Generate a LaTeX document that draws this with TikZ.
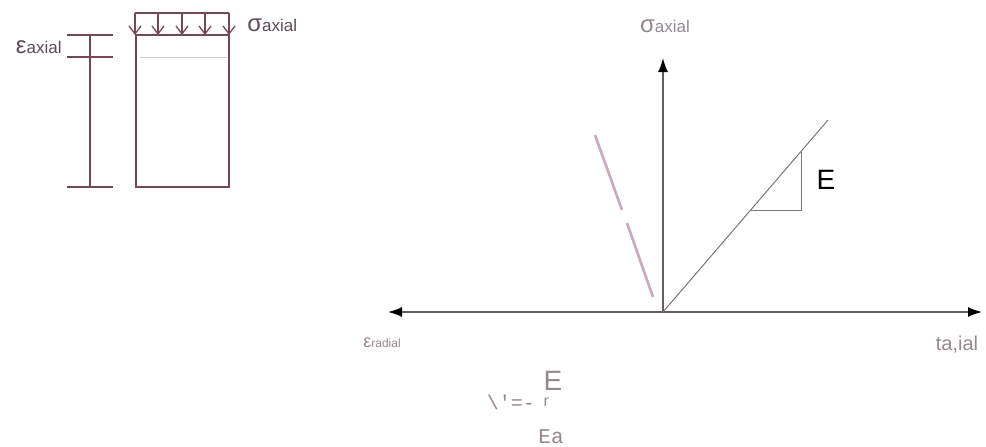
\documentclass[tikz,border=0pt]{standalone}
\usepackage{xcolor}
\usepackage{fontspec}
\setmainfont{Liberation Sans}
\newfontfamily\monofnt{Liberation Mono}
\usepackage{tikz}
\usetikzlibrary{arrows.meta,positioning}
\definecolor{specline}{RGB}{115,70,90}
\definecolor{faintline}{RGB}{210,205,210}
\definecolor{axiscol}{RGB}{100,92,97}
\definecolor{slopecol}{RGB}{125,115,120}
\definecolor{nucol}{RGB}{200,168,188}
\definecolor{lblgray}{RGB}{150,135,145}
\definecolor{lbldark}{RGB}{95,75,90}
\newcommand{\symlbl}[3]{{\fontsize{#3}{#3}\selectfont #1}{\fontsize{8.5}{9}\selectfont #2}}

\begin{document}
\begin{tikzpicture}[
  x=0.5pt, y=-0.5pt,
  spec/.style={draw=specline, line width=0.65pt},
  load/.style={specline, line width=0.65pt, -{Straight Barb[length=4pt,width=6pt]}},
  axis/.style={axiscol, line width=0.8pt},
  tipped/.style={{Latex[length=7pt,width=5pt,color=black]}-{Latex[length=7pt,width=5pt,color=black]}},
  slope/.style={slopecol, line width=0.5pt},
  lbl/.style={inner sep=0pt, text=lbldark},
  glbl/.style={inner sep=0pt, text=lblgray}
]
\useasboundingbox[fill=white] (0,0) rectangle (986,446);

% specimen under axial load
\draw[spec] (135,13) -- (229,13);
\foreach \xa in {135,158,182,205,229}
  \draw[load] (\xa,13) -- (\xa,35);
\draw[spec] (136,35) rectangle (229,187);
\draw[faintline, line width=0.5pt] (140,57) -- (227,57);

% axial strain dimension
\coordinate (dtop) at (90,35);
\coordinate (dbot) at (90,187);
\draw[spec] (dtop) -- (dbot);
\foreach \ya in {35,57,187}
  \draw[spec] (67,\ya) -- (113,\ya);

\node[lbl, anchor=east] (epsax) at (62,47) {\symlbl{ε}{axial}{12}};
\node[lbl, anchor=west] (sigax) at (247,25) {\symlbl{σ}{axial}{12}};

% stress-strain axes
\coordinate (O)  at (663,312);
\coordinate (xl) at (388,312);
\coordinate (xr) at (982,312);
\coordinate (yt) at (663,58);
\draw[axis, tipped] (xl) -- (xr);
\draw[axis, -{Latex[length=7pt,width=5pt,color=black]}] (O) -- (yt);

% elastic line with slope triangle
\coordinate (etop) at (828,120);
\coordinate (ta) at (801,152);
\coordinate (tb) at (751,210);
\draw[slope] (O) -- (etop);
\draw[slope] (ta) -- (801,210) -- (tb);
\node[inner sep=0pt, font=\fontsize{14}{14}\selectfont] (modE) at (826,180) {E};

% radial line
\coordinate (ra) at (595,135);
\coordinate (rb) at (622,210);
\coordinate (rc) at (627,223);
\coordinate (rd) at (653,297);
\draw[nucol, line width=1.3pt] (ra) -- (rb);
\draw[nucol, line width=1.3pt] (rc) -- (rd);

\node[glbl] (sigy) at (665,26) {\symlbl{σ}{axial}{12}};
\node[glbl] (epsr) at (382,343) {{\fontsize{9}{9}\selectfont ε}{\fontsize{6}{6}\selectfont radial}};
\node[glbl, font=\fontsize{10}{10}\selectfont] (epsx) at (957,345) {ta,ial};

% Poisson ratio
\node[glbl, font=\monofnt\fontsize{10}{10}\selectfont] (nueq) at (511,402) {\textbackslash'=-};
\node[glbl, font=\fontsize{14}{14}\selectfont] (nutop) at (553,381) {E};
\node[glbl, font=\fontsize{8}{8}\selectfont, below=3pt of nutop.south west, anchor=north west] (nubar) {r};
\node[glbl, font=\monofnt\fontsize{10.5}{10.5}\selectfont] (nubot) at (551,437) {Ea};

\end{tikzpicture}
\end{document}
